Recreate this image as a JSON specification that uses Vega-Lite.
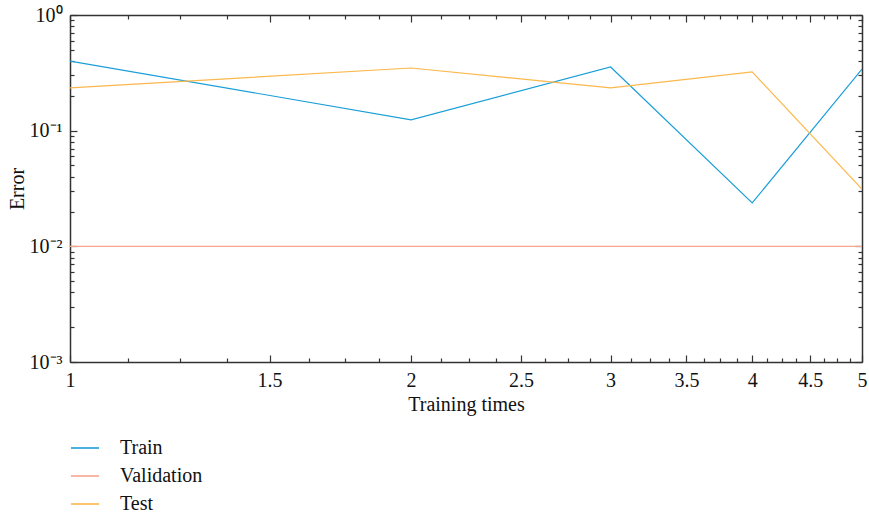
{
  "$schema": "https://vega.github.io/schema/vega-lite/v6.json",
  "width": 792,
  "height": 347,
  "autosize": {"type": "none"},
  "padding": {"left": 70, "top": 15, "right": 7, "bottom": 159},
  "background": "white",
  "config": {
    "font": "Liberation Serif",
    "view": {"stroke": null},
    "axis": {"grid": false, "domainColor": "#333333", "tickColor": "#333333", "domainWidth": 1.5, "tickWidth": 1.2, "labelColor": "#111111", "titleColor": "#111111", "labelFont": "Liberation Serif", "titleFont": "Liberation Serif", "labelFontSize": 20, "titleFontSize": 20, "titleFontWeight": "normal"}
  },
  "data": {
    "values": [
      {"t": 1, "err": 0.40, "series": "Train"},
      {"t": 2, "err": 0.124, "series": "Train"},
      {"t": 3, "err": 0.355, "series": "Train"},
      {"t": 4, "err": 0.0237, "series": "Train"},
      {"t": 5, "err": 0.341, "series": "Train"},
      {"t": 1, "err": 0.01, "series": "Validation"},
      {"t": 2, "err": 0.01, "series": "Validation"},
      {"t": 3, "err": 0.01, "series": "Validation"},
      {"t": 4, "err": 0.01, "series": "Validation"},
      {"t": 5, "err": 0.01, "series": "Validation"},
      {"t": 1, "err": 0.234, "series": "Test"},
      {"t": 2, "err": 0.348, "series": "Test"},
      {"t": 3, "err": 0.234, "series": "Test"},
      {"t": 4, "err": 0.322, "series": "Test"},
      {"t": 5, "err": 0.0313, "series": "Test"}
    ]
  },
  "resolve": {"axis": {"x": "independent", "y": "independent"}},
  "layer": [
    {
      "mark": {"type": "line", "strokeWidth": 1.2, "clip": true},
      "encoding": {
        "x": {"field": "t", "type": "quantitative", "scale": {"type": "log", "domain": [1, 5], "nice": false},
              "axis": {"orient": "bottom", "values": [1, 1.5, 2, 2.5, 3, 3.5, 4, 4.5, 5], "tickSize": -7, "labelPadding": 15, "title": "Training times", "titlePadding": 4, "format": "~g", "labelFlush": false}},
        "y": {"field": "err", "type": "quantitative", "scale": {"type": "log", "domain": [0.001, 1], "nice": false},
              "axis": {"orient": "left", "values": [0.001, 0.01, 0.1, 1], "tickSize": -7, "labelPadding": 15, "title": "Error", "titlePadding": 2,
                       "labelExpr": "datum.value >= 0.5 ? '10⁰' : datum.value >= 0.05 ? '10⁻¹' : datum.value >= 0.005 ? '10⁻²' : '10⁻³'"}},
        "color": {"field": "series", "type": "nominal",
                  "scale": {"domain": ["Train", "Validation", "Test"], "range": ["#1a9fd7", "#f6a68c", "#fbb84c"]},
                  "legend": {"title": null, "orient": "none", "legendX": 0, "legendY": 418, "direction": "vertical",
                             "symbolType": "stroke", "symbolSize": 784, "symbolStrokeWidth": 1.6, "labelFontSize": 20, "labelFont": "Liberation Serif", "labelColor": "#111111", "labelOffset": 20, "rowPadding": 3, "padding": 0}}
      }
    },
    {
      "mark": {"type": "line", "opacity": 0},
      "encoding": {
        "x": {"field": "t", "type": "quantitative", "scale": {"type": "log", "domain": [1, 5], "nice": false},
              "axis": {"orient": "top", "values": [1, 1.5, 2, 2.5, 3, 3.5, 4, 4.5, 5], "tickSize": -7, "labels": false, "title": null}},
        "y": {"field": "err", "type": "quantitative", "scale": {"type": "log", "domain": [0.001, 1], "nice": false},
              "axis": {"orient": "right", "values": [0.001, 0.01, 0.1, 1], "tickSize": -7, "labels": false, "title": null}}
      }
    },
    {
      "mark": {"type": "line", "opacity": 0},
      "encoding": {
        "x": {"field": "t", "type": "quantitative", "scale": {"type": "log", "domain": [1, 5], "nice": false},
              "axis": {"orient": "bottom", "values": [1.125, 1.25, 1.375, 1.625, 1.75, 1.875, 2.125, 2.25, 2.375, 2.625, 2.75, 2.875, 3.125, 3.25, 3.375, 3.625, 3.75, 3.875, 4.125, 4.25, 4.375, 4.625, 4.75, 4.875], "tickSize": -4, "labels": false, "title": null, "domain": false}},
        "y": {"field": "err", "type": "quantitative", "scale": {"type": "log", "domain": [0.001, 1], "nice": false},
              "axis": {"orient": "left", "values": [0.002, 0.003, 0.004, 0.005, 0.006, 0.007, 0.008, 0.009, 0.02, 0.03, 0.04, 0.05, 0.06, 0.07, 0.08, 0.09, 0.2, 0.3, 0.4, 0.5, 0.6, 0.7, 0.8, 0.9], "tickSize": -4, "labels": false, "title": null, "domain": false}}
      }
    },
    {
      "mark": {"type": "line", "opacity": 0},
      "encoding": {
        "x": {"field": "t", "type": "quantitative", "scale": {"type": "log", "domain": [1, 5], "nice": false},
              "axis": {"orient": "top", "values": [1.125, 1.25, 1.375, 1.625, 1.75, 1.875, 2.125, 2.25, 2.375, 2.625, 2.75, 2.875, 3.125, 3.25, 3.375, 3.625, 3.75, 3.875, 4.125, 4.25, 4.375, 4.625, 4.75, 4.875], "tickSize": -4, "labels": false, "title": null, "domain": false}},
        "y": {"field": "err", "type": "quantitative", "scale": {"type": "log", "domain": [0.001, 1], "nice": false},
              "axis": {"orient": "right", "values": [0.002, 0.003, 0.004, 0.005, 0.006, 0.007, 0.008, 0.009, 0.02, 0.03, 0.04, 0.05, 0.06, 0.07, 0.08, 0.09, 0.2, 0.3, 0.4, 0.5, 0.6, 0.7, 0.8, 0.9], "tickSize": -4, "labels": false, "title": null, "domain": false}}
      }
    }
  ]
}
